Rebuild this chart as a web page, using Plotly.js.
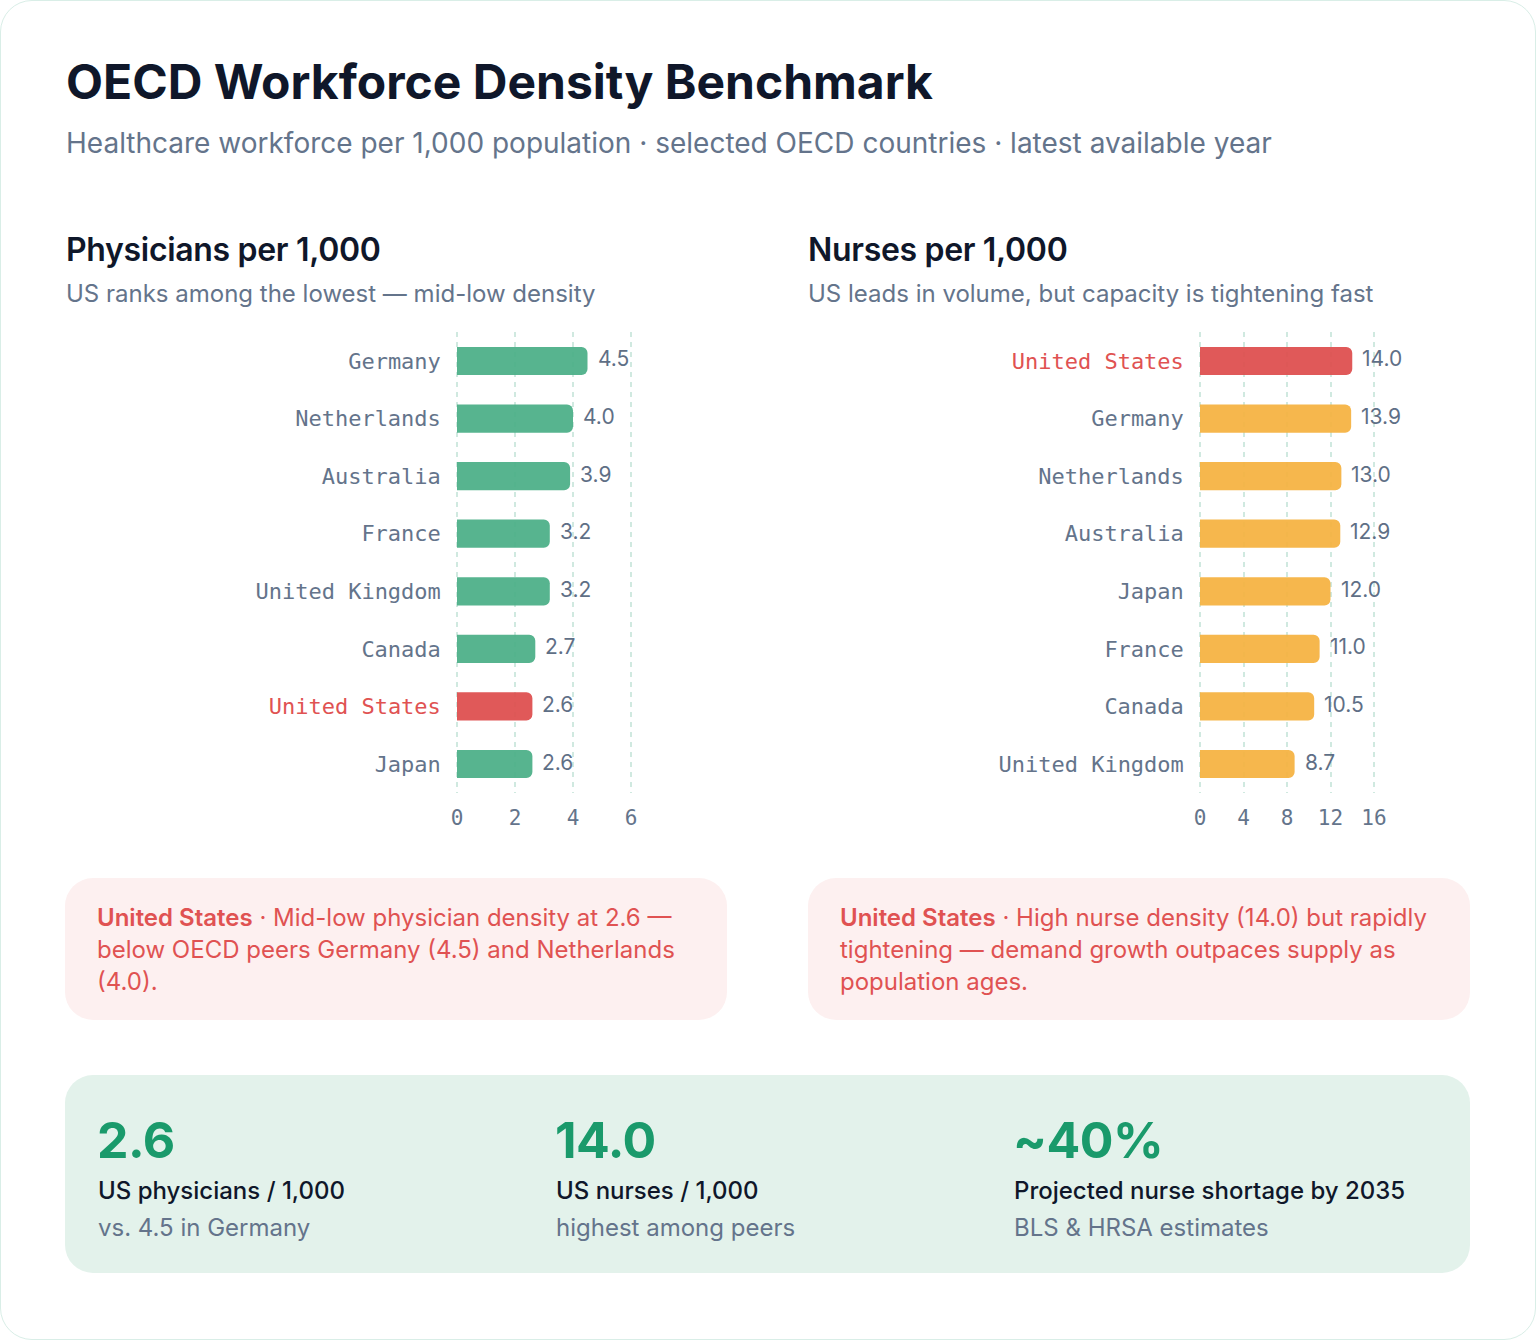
<!DOCTYPE html>
<html>
<head>
<meta charset="utf-8">
<script src="https://cdn.plot.ly/plotly-3.0.1.min.js"></script>
<style>
  html, body { margin:0; padding:0; background:#ffffff; }
  body { width:1536px; height:1340px; position:relative; overflow:hidden; font-family:Inter, "Noto Sans", sans-serif; }
  .card { position:absolute; left:0; top:0; width:1534px; height:1338px; border:1px solid #d9eee7; border-radius:32px; background:#fff; }
  .abs { position:absolute; white-space:nowrap; line-height:1; }
  .title { left:66px; top:58px; font-size:48px; font-weight:700; color:#0f172a; letter-spacing:0; }
  .sub { left:66px; top:129px; font-size:28px; color:#64748b; }
  .ptitle { font-size:32px; font-weight:600; color:#0f172a; top:234px; letter-spacing:-0.01em; }
  .psub { font-size:24px; color:#64748b; top:282px; }
  .callout { position:absolute; top:878px; width:662px; height:142px; background:#fdf0f0; border-radius:28px; box-sizing:border-box; padding:24px 32px; color:#e05252; font-size:24px; line-height:32px; }
  .callout b { font-weight:600; }
  .stats { position:absolute; left:65px; top:1075px; width:1405px; height:198px; background:#e3f2eb; border-radius:28px; }
  .big { font-size:50px; font-weight:700; color:#1a9a6b; top:1115px; letter-spacing:-0.01em; }
  .lab { font-size:24px; font-weight:500; color:#0f172a; top:1179px; }
  .lab2 { font-size:24px; color:#64748b; top:1216px; }
  #chart { position:absolute; left:0; top:0; width:1536px; height:1340px; }
</style>
</head>
<body>
<div class="card"></div>
<div class="abs title">OECD Workforce Density Benchmark</div>
<div class="abs sub">Healthcare workforce per 1,000 population · selected OECD countries · latest available year</div>

<div class="abs ptitle" style="left:66px">Physicians per 1,000</div>
<div class="abs psub" style="left:66px">US ranks among the lowest — mid-low density</div>
<div class="abs ptitle" style="left:808px">Nurses per 1,000</div>
<div class="abs psub" style="left:808px">US leads in volume, but capacity is tightening fast</div>

<div class="callout" style="left:65px"><b>United States</b> · Mid-low physician density at 2.6 — below OECD peers Germany (4.5) and Netherlands (4.0).</div>
<div class="callout" style="left:808px"><b>United States</b> · High nurse density (14.0) but rapidly tightening — demand growth outpaces supply as population ages.</div>

<div class="stats"></div>
<div class="abs big" style="left:97px">2.6</div>
<div class="abs lab" style="left:98px">US physicians / 1,000</div>
<div class="abs lab2" style="left:98px">vs. 4.5 in Germany</div>
<div class="abs big" style="left:555px">14.0</div>
<div class="abs lab" style="left:556px">US nurses / 1,000</div>
<div class="abs lab2" style="left:556px">highest among peers</div>
<div class="abs big" style="left:1013px">~40%</div>
<div class="abs lab" style="left:1014px">Projected nurse shortage by 2035</div>
<div class="abs lab2" style="left:1014px">BLS &amp; HRSA estimates</div>

<div id="chart"></div>

<script>
const physCountries = ['Germany','Netherlands','Australia','France','United Kingdom','Canada','United States','Japan'];
const physValues = [4.5, 4.0, 3.9, 3.2, 3.2, 2.7, 2.6, 2.6];
const physTicks = [0, 2, 4, 6];

const nurseCountries = ['United States','Germany','Netherlands','Australia','Japan','France','Canada','United Kingdom'];
const nurseValues = [14.0, 13.9, 13.0, 12.9, 12.0, 11.0, 10.5, 8.7];
const nurseTicks = [0, 4, 8, 12, 16];

const highlight = 'United States';
const RED = '#de4c4c', GREEN = '#4aae87', ORANGE = '#f5b23f';
const MONO = '"DejaVu Sans Mono", "Liberation Mono", monospace';
const LABEL = '#64748b';

function colors(cats, base) { return cats.map(c => c === highlight ? RED : base); }
function tickText(cats) { return cats.map(c => c === highlight ? '<span style="color:#e05252">' + c + '</span>' : c); }

const traces = [
  { type:'bar', orientation:'h', x:physValues, y:physCountries, xaxis:'x', yaxis:'y',
    width:0.49, marker:{color:colors(physCountries, GREEN), cornerradius:6, opacity:0.93}, hoverinfo:'skip' },
  { type:'bar', orientation:'h', x:nurseValues, y:nurseCountries, xaxis:'x2', yaxis:'y2',
    width:0.49, marker:{color:colors(nurseCountries, ORANGE), cornerradius:6, opacity:0.93}, hoverinfo:'skip' }
];

const annotations = [];
physValues.forEach((v,i) => annotations.push({x:v, y:physCountries[i], xref:'x', yref:'y', text:v.toFixed(1), showarrow:false, xanchor:'left', xshift:8, yshift:2, font:{family:'Inter', size:21, color:'#5f6f86'}}));
nurseValues.forEach((v,i) => annotations.push({x:v, y:nurseCountries[i], xref:'x2', yref:'y2', text:v.toFixed(1), showarrow:false, xanchor:'left', xshift:8, yshift:2, font:{family:'Inter', size:21, color:'#5f6f86'}}));

// small padding so the edge gridlines (0 and max) are drawn
const pad1 = 0.06, pad2 = 0.16;
const px1 = 174/6, px2 = 174/16;
const ydom = [1 - 792.8/1340, 1 - 332.2/1340];
const gridCommon = { showgrid:true, gridcolor:'#d0e9e0', gridwidth:2, griddash:'5px,5px', zeroline:false, showline:false,
  ticks:'outside', ticklen:6, tickcolor:'rgba(0,0,0,0)', tickfont:{family:MONO, size:21, color:LABEL}, fixedrange:true };
const ycommon = { type:'category', autorange:false, range:[7.5,-0.5], showgrid:false, zeroline:false, showline:false,
  ticks:'outside', ticklen:9, tickcolor:'rgba(0,0,0,0)', tickfont:{family:MONO, size:22, color:LABEL}, fixedrange:true };

const layout = {
  width:1536, height:1340, margin:{l:0,r:0,t:0,b:0},
  paper_bgcolor:'rgba(0,0,0,0)', plot_bgcolor:'rgba(0,0,0,0)', showlegend:false,
  xaxis: Object.assign({}, gridCommon, {domain:[(457 - pad1*px1)/1536, (631 + pad1*px1)/1536], range:[-pad1, 6 + pad1], tickvals:physTicks, anchor:'y'}),
  yaxis: Object.assign({}, ycommon, {domain:ydom, anchor:'x', tickvals:physCountries, ticktext:tickText(physCountries)}),
  xaxis2: Object.assign({}, gridCommon, {domain:[(1200 - pad2*px2)/1536, (1374 + pad2*px2)/1536], range:[-pad2, 16 + pad2], tickvals:nurseTicks, anchor:'y2'}),
  yaxis2: Object.assign({}, ycommon, {domain:ydom, anchor:'x2', tickvals:nurseCountries, ticktext:tickText(nurseCountries)}),
  annotations: annotations
};

Plotly.newPlot('chart', traces, layout, {displayModeBar:false, staticPlot:true});
</script>
</body>
</html>
